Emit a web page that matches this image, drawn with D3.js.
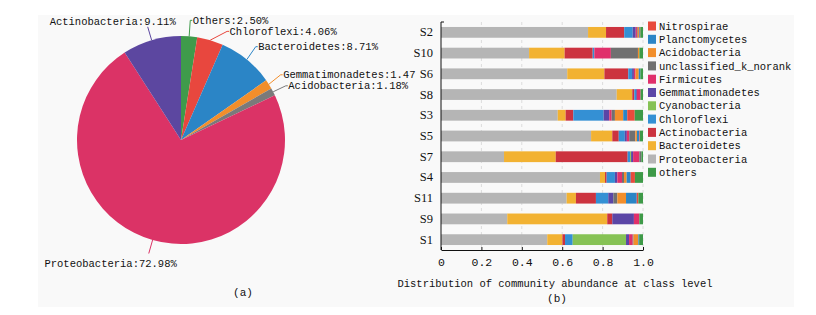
<!DOCTYPE html>
<html>
<head>
<meta charset="utf-8">
<script src="https://cdn.jsdelivr.net/npm/d3@7"></script>
<style>
  body { margin: 0; background: #fff; }
  text { fill: #111; }
</style>
</head>
<body>
<div id="chart"></div>
<script>
// ---- pie data (a) ----
var pieNames = ["Others", "Chloroflexi", "Bacteroidetes", "Gemmatimonadetes", "Acidobacteria", "Proteobacteria", "Actinobacteria"];
var pieValues = [2.50, 4.06, 8.71, 1.47, 1.18, 72.98, 9.11];
// label strings as printed (the Gemmatimonadetes one is cut off in the original)
var pieLabelText = ["Others:2.50%", "Chloroflexi:4.06%", "Bacteroidetes:8.71%", "Gemmatimonadetes:1.47",
  "Acidobacteria:1.18%", "Proteobacteria:72.98%", "Actinobacteria:9.11%"];
var pieColors = ["#3f9b4b", "#e8473e", "#2b85c6", "#f28e2b", "#7a7a7a", "#db3366", "#5c47a0"];

// ---- stacked bar data (b) ----
var samples = ["S2", "S10", "S6", "S8", "S3", "S5", "S7", "S4", "S11", "S9", "S1"];
var classes = ["Proteobacteria", "Bacteroidetes", "Actinobacteria", "Chloroflexi", "Cyanobacteria",
  "Gemmatimonadetes", "Firmicutes", "unclassified_k_norank", "Acidobacteria", "Planctomycetes", "Nitrospirae", "others"];
var classColors = ["#b5b5b5", "#f2b232", "#cc333f", "#3490d4", "#86c255",
  "#5b46a6", "#e0306b", "#707070", "#f28e2b", "#2b85c6", "#e84a3c", "#3e9a48"];
var legendOrder = ["Nitrospirae", "Planctomycetes", "Acidobacteria", "unclassified_k_norank", "Firmicutes",
  "Gemmatimonadetes", "Cyanobacteria", "Chloroflexi", "Actinobacteria", "Bacteroidetes", "Proteobacteria", "others"];

var proteobacteria   = [0.728, 0.436, 0.625, 0.870, 0.578, 0.743, 0.312, 0.787, 0.622, 0.328, 0.526];
var bacteroidetes    = [0.089, 0.176, 0.184, 0.077, 0.039, 0.105, 0.256, 0.025, 0.046, 0.495, 0.075];
var actinobacteria   = [0.090, 0.139, 0.118, 0.010, 0.038, 0.032, 0.356, 0.008, 0.099, 0.025, 0.013];
var chloroflexi      = [0.042, 0.008, 0.019, 0.009, 0.150, 0.030, 0.012, 0.041, 0.061, 0.000, 0.038];
var cyanobacteria    = [0.000, 0.000, 0.000, 0.000, 0.000, 0.000, 0.005, 0.000, 0.000, 0.000, 0.264];
var gemmatimonadetes = [0.015, 0.000, 0.009, 0.004, 0.028, 0.010, 0.010, 0.012, 0.025, 0.107, 0.015];
var firmicutes       = [0.006, 0.082, 0.008, 0.018, 0.012, 0.012, 0.031, 0.023, 0.000, 0.027, 0.018];
var unclassified     = [0.004, 0.134, 0.000, 0.000, 0.016, 0.030, 0.010, 0.010, 0.020, 0.000, 0.004];
var acidobacteria    = [0.006, 0.007, 0.016, 0.000, 0.041, 0.008, 0.000, 0.013, 0.043, 0.000, 0.024];
var planctomycetes   = [0.004, 0.000, 0.008, 0.000, 0.020, 0.012, 0.000, 0.020, 0.053, 0.000, 0.004];
var nitrospirae      = [0.003, 0.000, 0.000, 0.000, 0.037, 0.003, 0.000, 0.021, 0.008, 0.000, 0.000];
var others           = [0.013, 0.018, 0.013, 0.012, 0.041, 0.015, 0.008, 0.040, 0.023, 0.018, 0.019];

var xTicks = [0, 0.2, 0.4, 0.6, 0.8, 1.0];

var seriesByClass = [proteobacteria, bacteroidetes, actinobacteria, chloroflexi, cyanobacteria,
  gemmatimonadetes, firmicutes, unclassified, acidobacteria, planctomycetes, nitrospirae, others];

var mono = "'Liberation Mono', 'DejaVu Sans Mono', monospace";
var serif = "'Liberation Serif', 'DejaVu Serif', serif";

var width = 816, height = 315;
var svg = d3.select("#chart").append("svg")
    .attr("width", width)
    .attr("height", height);

// faint panel background
svg.append("rect")
    .attr("x", 38).attr("y", 15)
    .attr("width", 756).attr("height", 292)
    .attr("fill", "#f9f9f9");

// ================= (a) pie =================
var cx = 181, cy = 140, r = 104;

var gPie = svg.append("g");

var pie = d3.pie().sort(null).value(function(d) { return d; });
var arcs = pie(pieValues);
var arc = d3.arc().innerRadius(0).outerRadius(r);

gPie.append("g")
    .attr("transform", "translate(" + cx + "," + cy + ")")
  .selectAll("path")
  .data(arcs)
  .enter().append("path")
    .attr("d", arc)
    .attr("fill", function(d, i) { return pieColors[i]; });

// label layout: point on edge, bend point on a bigger circle, push right-side labels apart
var R = r + 14;
var labels = arcs.map(function(a, i) {
  var mid = (a.startAngle + a.endAngle) / 2;
  var s = Math.sin(mid), c = Math.cos(mid);
  return {
    i: i,
    text: pieLabelText[i],
    right: s > 0,
    up: c > 0,
    p1: [cx + r * s, cy - r * c],
    p2: [cx + R * s, cy - R * c]
  };
});

var rightSide = labels.filter(function(l) { return l.right; })
  .sort(function(a, b) { return a.p2[1] - b.p2[1]; });
var lastY = -Infinity;
rightSide.forEach(function(l) {
  var ly = Math.max(l.p2[1] - 2, lastY + 11);
  lastY = ly;
  var dy = ly - cy;
  var bx = Math.abs(dy) < R ? cx + Math.sqrt(R * R - dy * dy) : cx;
  bx = Math.max(bx, l.p2[0]);
  l.line = [l.p1, [bx, ly], [bx + 2, ly]];
  l.tx = bx + 2.5; l.ty = ly; l.anchor = "start";
});
labels.filter(function(l) { return !l.right; }).forEach(function(l) {
  l.line = [l.p1, l.p2];
  l.tx = l.p2[0] + 28;
  l.ty = l.p2[1] + (l.up ? -5 : 10);
  l.anchor = "end";
});

gPie.selectAll(".lead")
  .data(labels)
  .enter().append("path")
    .attr("class", "lead")
    .attr("d", function(d) { return d3.line()(d.line); })
    .attr("fill", "none")
    .attr("stroke", function(d) { return pieColors[d.i]; })
    .attr("stroke-width", 1);

gPie.selectAll(".plabel")
  .data(labels)
  .enter().append("text")
    .attr("class", "plabel")
    .attr("x", function(d) { return d.tx; })
    .attr("y", function(d) { return d.ty; })
    .attr("dy", "0.35em")
    .attr("text-anchor", function(d) { return d.anchor; })
    .style("font-family", mono)
    .style("font-size", "10.5px")
    .text(function(d) { return d.text; });

svg.append("text")
    .attr("x", 243).attr("y", 292)
    .attr("dy", "0.35em")
    .attr("text-anchor", "middle")
    .style("font-family", mono)
    .style("font-size", "11px")
    .text("(a)");

// ================= (b) stacked bars =================
var x = d3.scaleLinear().domain([0, 1]).range([441, 643]);
var y = d3.scaleBand().domain(samples).range([22, 250]).paddingInner(0.48).paddingOuter(0.24);

var rows = samples.map(function(s, j) {
  var o = { sample: s };
  classes.forEach(function(c, k) { o[c] = seriesByClass[k][j]; });
  return o;
});
var stacked = d3.stack().keys(classes)(rows);

// dashed grid
svg.append("g")
  .selectAll("line")
  .data(xTicks.slice(1))
  .enter().append("line")
    .attr("x1", function(d) { return x(d); })
    .attr("x2", function(d) { return x(d); })
    .attr("y1", 22).attr("y2", 250)
    .attr("stroke", "#dcdcdc")
    .attr("stroke-dasharray", "3,3");

svg.append("g")
  .selectAll("g")
  .data(stacked)
  .enter().append("g")
    .attr("fill", function(d, k) { return classColors[k]; })
  .selectAll("rect")
  .data(function(d) { return d; })
  .enter().append("rect")
    .attr("x", function(d) { return x(d[0]); })
    .attr("width", function(d) { return Math.max(0, x(d[1]) - x(d[0])); })
    .attr("y", function(d) { return y(d.data.sample); })
    .attr("height", y.bandwidth());

// x axis
var xAxis = svg.append("g")
    .attr("transform", "translate(0,250)")
    .call(d3.axisBottom(x).tickValues(xTicks).tickSizeInner(-3).tickSizeOuter(0).tickPadding(8)
      .tickFormat(function(d) { return d === 0 ? "0" : d3.format(".1f")(d); }));
xAxis.selectAll("text")
    .style("font-family", mono)
    .style("font-size", "11.5px")
    .attr("fill", "#111");
xAxis.selectAll("line, path").attr("stroke", "#111");

// y axis
var yAxis = svg.append("g")
    .attr("transform", "translate(441,0)")
    .call(d3.axisLeft(y).tickSize(0).tickPadding(8));
yAxis.select(".domain").attr("stroke", "#111").attr("d", "M3,22H0V250");
yAxis.selectAll("text")
    .style("font-family", serif)
    .style("font-size", "12.5px")
    .attr("fill", "#111");

svg.append("text")
    .attr("x", 555).attr("y", 283)
    .attr("dy", "0.35em")
    .attr("text-anchor", "middle")
    .style("font-family", mono)
    .style("font-size", "10.5px")
    .text("Distribution of community abundance at class level");

svg.append("text")
    .attr("x", 557).attr("y", 298)
    .attr("dy", "0.35em")
    .attr("text-anchor", "middle")
    .style("font-family", mono)
    .style("font-size", "11px")
    .text("(b)");

// legend
var legend = svg.append("g")
  .selectAll("g")
  .data(legendOrder)
  .enter().append("g")
    .attr("transform", function(d, i) { return "translate(648," + (26 + i * 13.3) + ")"; });
legend.append("rect")
    .attr("x", 0).attr("y", -4.5)
    .attr("width", 8).attr("height", 9)
    .attr("fill", function(d) { return classColors[classes.indexOf(d)]; });
legend.append("text")
    .attr("x", 11).attr("y", 0)
    .attr("dy", "0.35em")
    .style("font-family", mono)
    .style("font-size", "10.5px")
    .text(function(d) { return d; });
</script>
</body>
</html>
